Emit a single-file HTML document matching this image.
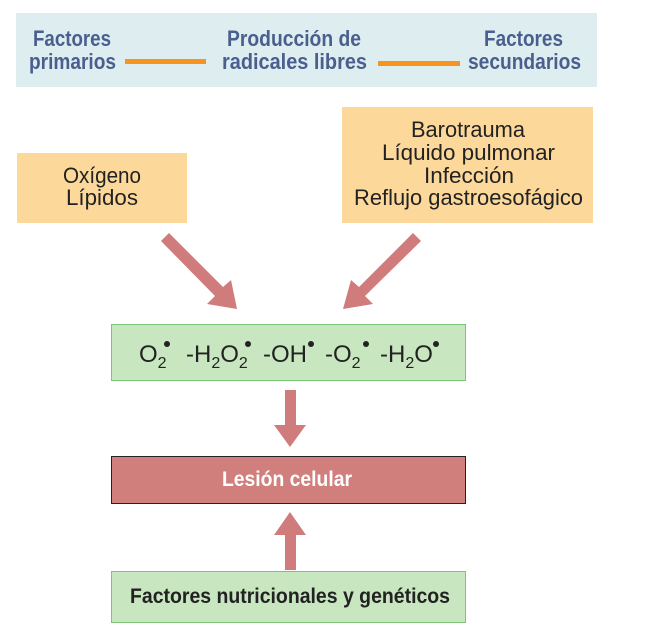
<!DOCTYPE html>
<html><head><meta charset="utf-8"><style>
html,body{margin:0;padding:0;background:#fff;}
svg text{font-family:"Liberation Sans Narrow","Liberation Sans",sans-serif;}
</style></head><body>
<svg width="651" height="636" viewBox="0 0 651 636" xmlns="http://www.w3.org/2000/svg">
<rect x="16" y="13" width="581" height="74" fill="#ddedf0"/>
<g font-weight="bold" fill="#4a5f8e" font-size="22" lengthAdjust="spacingAndGlyphs">
<text x="33" y="46" textLength="78" lengthAdjust="spacingAndGlyphs">Factores</text>
<text x="29" y="69" textLength="87" lengthAdjust="spacingAndGlyphs">primarios</text>
<text x="227" y="46" textLength="134" lengthAdjust="spacingAndGlyphs">Producción de</text>
<text x="222" y="69" textLength="145" lengthAdjust="spacingAndGlyphs">radicales libres</text>
<text x="484" y="46" textLength="79" lengthAdjust="spacingAndGlyphs">Factores</text>
<text x="468" y="69" textLength="113" lengthAdjust="spacingAndGlyphs">secundarios</text>
</g>
<rect x="125" y="59" width="81" height="5" fill="#f7941d"/>
<rect x="378" y="61" width="82" height="5" fill="#f7941d"/>
<rect x="17" y="153" width="170" height="70" fill="#fdd89b"/>
<rect x="342" y="107" width="251" height="116" fill="#fdd89b"/>
<g font-size="22" fill="#222">
<text x="63" y="183" textLength="78" lengthAdjust="spacingAndGlyphs">Oxígeno</text>
<text x="66" y="205" textLength="72" lengthAdjust="spacingAndGlyphs">Lípidos</text>
<text x="411" y="137" textLength="114" lengthAdjust="spacingAndGlyphs">Barotrauma</text>
<text x="382" y="160" textLength="173" lengthAdjust="spacingAndGlyphs">Líquido pulmonar</text>
<text x="424" y="183" textLength="90" lengthAdjust="spacingAndGlyphs">Infección</text>
<text x="354" y="205" textLength="229" lengthAdjust="spacingAndGlyphs">Reflujo gastroesofágico</text>
</g>
<g fill="#d07c7c">
<polygon points="161,241 169,233 223,287 231,280 237,309 207,304 215,296"/>
<polygon points="421,241 413,233 359,287 351,280 343,309 373,304 365,296"/>
<polygon points="285,390 296,390 296,425 306,425 290,447 274,425 285,425"/>
<polygon points="285,570 296,570 296,535 306,535 290,512 274,535 285,535"/>
</g>
<rect x="111.5" y="324.5" width="354" height="56" fill="#c8e6c0" stroke="#7cc576"/>
<g font-size="24" fill="#222">
<text x="139" y="362">O<tspan font-size="16" dy="6">2</tspan></text>
<text x="186" y="362">-H<tspan font-size="16" dy="6">2</tspan><tspan dy="-6">O</tspan><tspan font-size="16" dy="6">2</tspan></text>
<text x="263" y="362">-OH</text>
<text x="325" y="362">-O<tspan font-size="16" dy="6">2</tspan></text>
<text x="380" y="362">-H<tspan font-size="16" dy="6">2</tspan><tspan dy="-6">O</tspan></text>
</g>
<g fill="#222">
<circle cx="167" cy="344" r="3"/>
<circle cx="248" cy="344" r="3"/>
<circle cx="311" cy="344" r="3"/>
<circle cx="366" cy="344" r="3"/>
<circle cx="436" cy="344" r="3"/>
</g>
<rect x="111.5" y="456.5" width="354" height="47" fill="#d17f7c" stroke="#222"/>
<text x="222" y="486" font-size="21" font-weight="bold" fill="#fff" textLength="130" lengthAdjust="spacingAndGlyphs">Lesión celular</text>
<rect x="111.5" y="571.5" width="354" height="51" fill="#c8e6c0" stroke="#7cc576"/>
<text x="130" y="603" font-size="21" font-weight="bold" fill="#222" textLength="320" lengthAdjust="spacingAndGlyphs">Factores nutricionales y genéticos</text>
</svg>
</body></html>
